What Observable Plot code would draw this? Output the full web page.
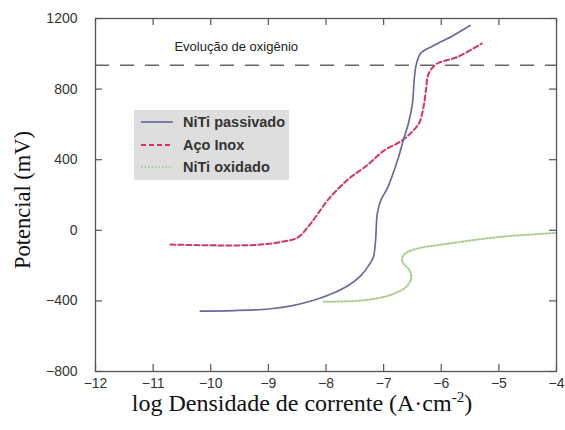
<!DOCTYPE html>
<html>
<head>
<meta charset="utf-8">
<script src="https://cdn.jsdelivr.net/npm/d3@7"></script>
<script src="https://cdn.jsdelivr.net/npm/@observablehq/plot@0.6"></script>
<style>
  body { margin: 0; background: white; }
  #wrap { position: relative; width: 565px; height: 430px; }
  #legend { position: absolute; left: 134px; top: 110px; width: 155px; height: 70px; background: #dedede;
    font-family: "Liberation Sans", Arial, sans-serif; font-weight: bold; font-size: 14.5px; color: #333; }
  #legend .row { position: absolute; left: 7px; height: 20px; display: flex; align-items: center; }
  #legend svg { width: 32px; height: 6px; margin-right: 10px; }
</style>
</head>
<body>
<div id="wrap"></div>
<script>
// Tick values
const xTicks = [-12, -11, -10, -9, -8, -7, -6, -5, -4];
const yTicks = [-800, -400, 0, 400, 800, 1200];

// NiTi passivado
const passX = [-10.18, -9.6, -9.0, -8.6, -8.2, -7.9, -7.6, -7.4, -7.26, -7.18, -7.14, -7.11, -7.05, -6.93, -6.76, -6.65, -6.57, -6.50, -6.47, -6.44, -6.36, -6.13, -5.79, -5.5];
const passY = [-458, -455, -446, -428, -395, -360, -310, -258, -200, -154, -58, 95, 169, 242, 395, 520, 605, 718, 850, 930, 1002, 1047, 1104, 1160];

// Aço Inox
const inoxX = [-10.7, -10.0, -9.6, -9.14, -8.74, -8.49, -8.32, -8.15, -7.96, -7.63, -7.28, -7.0, -6.7, -6.5, -6.38, -6.31, -6.26, -6.24, -6.19, -6.07, -5.72, -5.3];
const inoxY = [-81, -85, -86, -81, -64, -41, 16, 90, 175, 285, 370, 450, 505, 560, 610, 696, 809, 866, 905, 945, 982, 1058];

// NiTi oxidado
const oxX = [-8.04, -7.4, -7.0, -6.8, -6.6, -6.52, -6.56, -6.66, -6.68, -6.6, -6.36, -6.0, -5.5, -5.0, -4.5, -4.0];
const oxY = [-405, -398, -378, -356, -318, -270, -222, -186, -157, -126, -99, -82, -58, -38, -25, -15];

// Oxygen evolution level and annotation
const oxygenLevel = [935];
const annotX = [-10.63];
const annotY = [1040];
const annotText = ["Evolução de oxigênio"];

const seriesNames = ["NiTi passivado", "Aço Inox", "NiTi oxidado"];
const seriesColors = ["#6a6a9e", "#d3336e", "#a9cc8e"];

const toRows = (xs, ys) => xs.map((x, i) => ({x, y: ys[i]}));
const passData = toRows(passX, passY);
const inoxData = toRows(inoxX, inoxY);
const oxData = toRows(oxX, oxY);
const annot = annotX.map((x, i) => ({x, y: annotY[i], label: annotText[i]}));

const W = 565, H = 430, mL = 95, mR = 9, mT = 18, mB = 59;
const fw = W - mL - mR, fh = H - mT - mB;
const tk = 7;
const frameColor = "#555";
const fmt = d => d < 0 ? "\u2212" + Math.abs(d) : String(d);

const chart = Plot.plot({
  width: W, height: H,
  marginLeft: mL, marginRight: mR, marginTop: mT, marginBottom: mB,
  x: {domain: [-12, -4]},
  y: {domain: [-800, 1200]},
  style: {fontFamily: "'Liberation Sans', Arial, sans-serif", fontSize: "14px", color: "#333", background: "white"},
  marks: [
    Plot.axisX(xTicks, {tickSize: 0, tickPadding: 7, label: null, fill: "#333", tickFormat: fmt}),
    Plot.axisY(yTicks, {tickSize: 0, tickPadding: 18, label: null, fill: "#333", tickFormat: fmt}),
    Plot.tickX(xTicks, {x: d => d, insetTop: fh - tk, stroke: frameColor, strokeWidth: 1.2}),
    Plot.tickX(xTicks, {x: d => d, insetBottom: fh - tk, stroke: frameColor, strokeWidth: 1.2}),
    Plot.tickY(yTicks, {y: d => d, insetRight: fw - tk, stroke: frameColor, strokeWidth: 1.2}),
    Plot.tickY(yTicks, {y: d => d, insetLeft: fw - tk, stroke: frameColor, strokeWidth: 1.2}),
    Plot.ruleY(oxygenLevel, {stroke: "#666", strokeWidth: 1.5, strokeDasharray: "14,11"}),
    Plot.text(annot, {x: "x", y: "y", text: "label", textAnchor: "start", fontSize: 13, fill: "#222"}),
    Plot.line(oxData, {x: "x", y: "y", curve: "catmull-rom", stroke: seriesColors[2], strokeWidth: 2, strokeDasharray: "1.5,2"}),
    Plot.line(inoxData, {x: "x", y: "y", curve: "catmull-rom", stroke: seriesColors[1], strokeWidth: 2, strokeDasharray: "5,3"}),
    Plot.line(passData, {x: "x", y: "y", curve: "catmull-rom", stroke: seriesColors[0], strokeWidth: 1.7}),
    Plot.frame({stroke: frameColor, strokeWidth: 1.3})
  ]
});

const svg = d3.select(chart);
svg.append("text")
  .attr("transform", `translate(25,200) rotate(-90)`)
  .attr("text-anchor", "middle")
  .attr("dominant-baseline", "middle")
  .style("font-family", "'Liberation Serif', 'Times New Roman', serif")
  .style("font-size", "22.5px")
  .attr("fill", "#111")
  .text("Potencial (mV)");

const xl = svg.append("text")
  .attr("x", 302).attr("y", 411)
  .attr("text-anchor", "middle")
  .style("font-family", "'Liberation Serif', 'Times New Roman', serif")
  .style("font-size", "24px")
  .attr("fill", "#111");
xl.append("tspan").text("log Densidade de corrente (A·cm");
xl.append("tspan").attr("dy", -9).style("font-size", "15px").text("-2");
xl.append("tspan").attr("dy", 9).text(")");

const wrap = document.getElementById("wrap");
wrap.appendChild(chart);

// Legend
const dashes = ["none", "5,3", "1.5,2"];
const widths = [1.7, 2, 2];
const legend = document.createElement("div");
legend.id = "legend";
seriesNames.forEach((name, i) => {
  const row = document.createElement("div");
  row.className = "row";
  row.style.top = (2 + i * 22.5) + "px";
  row.innerHTML = `<svg viewBox="0 0 32 6"><line x1="0" y1="3" x2="32" y2="3" stroke="${seriesColors[i]}" stroke-width="${widths[i]}" stroke-dasharray="${dashes[i]}"/></svg><span>${name}</span>`;
  legend.appendChild(row);
});
wrap.appendChild(legend);
</script>
</body>
</html>
